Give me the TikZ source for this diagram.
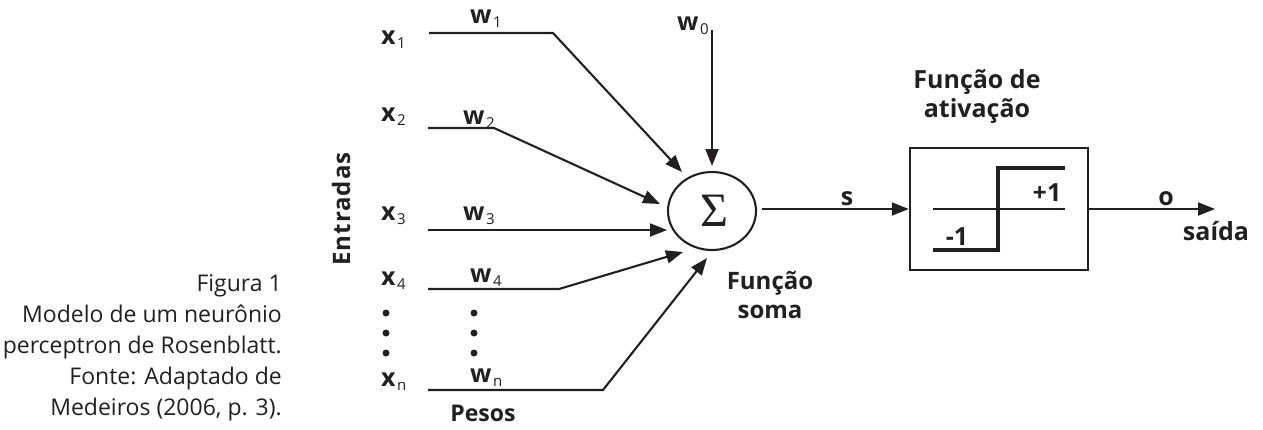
\documentclass[tikz,border=0pt]{standalone}
\usepackage{fontspec}
\setmainfont{Open Sans}
\newfontfamily\spacedbold[LetterSpace=4]{Open Sans}
\newfontfamily\serifsym{Liberation Serif}
\usetikzlibrary{arrows.meta,shapes.geometric}
\definecolor{ink}{RGB}{35,31,32}
\newcommand\lbsub[2]{\textbf{#1}\kern1.5pt\raisebox{-4pt}{\fontsize{15}{15}\selectfont #2}}
\begin{document}
\begin{tikzpicture}[x=1pt,y=-1pt,
  every node/.style={inner sep=0pt,text=ink},
  lbl/.style={anchor=base west,font=\fontsize{25}{26}\selectfont},
  btxt/.style={font=\bfseries\fontsize{24}{29}\selectfont,align=center},
  small/.style={anchor=base,font=\bfseries\fontsize{25}{25}\selectfont},
  wire/.style={draw=ink,line width=2.1pt,line join=miter},
  arr/.style={wire,-{Triangle[length=17pt,width=13pt]}},
  dot/.style={circle,fill=ink,minimum size=7pt}]
\useasboundingbox (0,0) rectangle (1263,429);

% caption
\node[anchor=north east,align=right,font=\fontsize{23}{31}\selectfont] (cap) at (282,274)
  {Figura 1\\Modelo de um neurônio\\perceptron de Rosenblatt.\\Fonte: Adaptado de\\Medeiros (2006, p. 3).};

% Entradas
\node[rotate=90,font=\spacedbold\bfseries\fontsize{24}{24}\selectfont] (ent) at (341,209) {Entradas};

% input labels
\node[lbl] (x1) at (381,44) {\lbsub{x}{1}};
\node[lbl] (x2) at (381,121) {\lbsub{x}{2}};
\node[lbl] (x3) at (381,220) {\lbsub{x}{3}};
\node[lbl] (x4) at (381,285) {\lbsub{x}{4}};
\node[lbl] (xn) at (381,386) {\lbsub{x}{n}};

% weight labels
\node[lbl] (w1) at (470,23) {\lbsub{w}{1}};
\node[lbl] (w2) at (463,124) {\lbsub{w}{2}};
\node[lbl] (w3) at (463,220) {\lbsub{w}{3}};
\node[lbl] (w4) at (470,282) {\lbsub{w}{4}};
\node[lbl] (wn) at (470,382) {\lbsub{w}{n}};
\node[lbl] (w0) at (677,30) {\lbsub{w}{0}};

% dots
\foreach \y [count=\i] in {313,333,353}{
  \node[dot] (dx\i) at (386,\y) {};
  \node[dot] (dw\i) at (474,\y) {};
}

% summation
\node[ellipse,draw=ink,line width=2.1pt,minimum width=88pt,minimum height=78pt] (sum) at (712,211) {};
\node[font=\serifsym\fontsize{48}{48}\selectfont] (sig) at (714,211) {Σ};

\node[btxt] (fs) at (770,295) {Função\\soma};
\node[btxt,font=\bfseries\fontsize{23}{29}\selectfont] (pesos) at (483,413) {Pesos};

% wire coordinates
\coordinate (s1) at (429,33);  \coordinate (b1) at (553,33);  \coordinate (t1) at (682,172);
\coordinate (s2) at (428,128); \coordinate (b2) at (494,128); \coordinate (t2) at (660,204);
\coordinate (s3) at (428,230); \coordinate (t3) at (667,230);
\coordinate (s4) at (428,289); \coordinate (b4) at (559,289); \coordinate (t4) at (683,252);
\coordinate (s5) at (428,390); \coordinate (b5) at (603,390); \coordinate (t5) at (707,258);
\coordinate (s0) at (712,30);  \coordinate (t0) at (712,166);

\draw[arr] (s1) -- (b1) -- (t1);
\draw[arr] (s2) -- (b2) -- (t2);
\draw[arr] (s3) -- (t3);
\draw[arr] (s4) -- (b4) -- (t4);
\draw[arr] (s5) -- (b5) -- (t5);
\draw[arr] (s0) -- (t0);

% activation box
\node[draw=ink,line width=2.5pt,minimum width=178pt,minimum height=122pt] (act) at (999,209) {};
\node[btxt,font=\bfseries\fontsize{25}{29}\selectfont] (fa) at (977,97) {Função de\\ativação};
\coordinate (ax1) at (933,209); \coordinate (ax2) at (1065,209);
\draw[wire] (ax1) -- (ax2);
\coordinate (st1) at (933,250); \coordinate (st2) at (998,250);
\coordinate (st3) at (998,168); \coordinate (st4) at (1065,168);
\draw[draw=ink,line width=4pt] (st1) -- (st2) -- (st3) -- (st4);
\node[small] (p1) at (1047,201) {+1};
\node[small] (m1) at (957,245) {-1};

% s and output
\coordinate (sumout) at (762,209);
\draw[arr] (sumout) -- (act.west);
\node[small] (slbl) at (847,205) {s};
\coordinate (oend) at (1215,209);
\draw[arr] (act.east) -- (oend);
\node[small] (olbl) at (1166,205) {o};
\node[small] (said) at (1216,240) {saída};
\end{tikzpicture}
\end{document}
